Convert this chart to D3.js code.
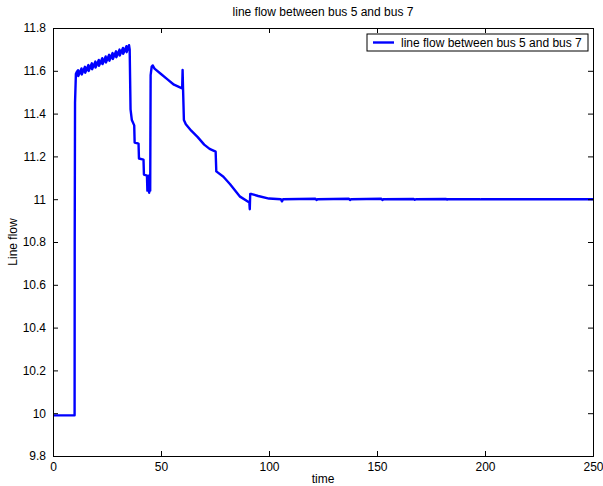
<!DOCTYPE html>
<meta charset="utf-8">
<style>
body { margin: 0; background: #fff; }
text { font-family: "Liberation Sans", Arial, Helvetica, sans-serif; fill: #000; }
</style>
<svg id="chart" width="603" height="486"></svg>
<script src="https://d3js.org/d3.v7.min.js"></script>
<script>
// values
var time = [0, 10, 10.05, 10.2, 10.6, 11.0,
    11.6, 11.7, 13.2, 13.3, 14.8, 14.9, 16.4, 16.5, 18.0, 18.1, 19.6, 19.7,
    21.2, 21.3, 22.8, 22.9, 24.4, 24.5, 26.0, 26.1, 27.6, 27.7, 29.2, 29.3,
    30.8, 30.9, 32.4, 32.5, 34.0, 34.1, 35.2,
    35.5, 35.9, 36.5, 37.6, 37.8, 39.6, 39.8, 41.9, 42.1, 43.5, 43.7, 44.2, 44.5, 44.8, 45.0,
    45.2, 45.7, 46.2, 47, 50, 53, 56, 59.8, 60.0, 60.2, 60.6, 61.5, 64, 67, 70, 72.5, 75.3,
    75.6, 78.9, 82, 86.6, 90.9, 91.1, 91.3, 92, 95, 100, 105.5, 106, 106.5,
    121.5, 122, 122.5, 137, 137.5, 138, 152, 152.5, 153, 167, 167.5, 168,
    182, 182.5, 183, 197.5, 198, 198.5, 250];
var flow = [9.99, 9.99, 10.8, 11.45, 11.585, 11.595,
    11.603, 11.575, 11.611, 11.583, 11.619, 11.591, 11.627, 11.599, 11.635, 11.607, 11.643, 11.615,
    11.651, 11.623, 11.659, 11.631, 11.667, 11.639, 11.675, 11.647, 11.683, 11.655, 11.691, 11.663,
    11.699, 11.671, 11.707, 11.679, 11.715, 11.687, 11.72,
    11.70, 11.42, 11.37, 11.345, 11.265, 11.26, 11.19, 11.185, 11.115, 11.11, 11.04, 11.11, 11.03, 11.06, 11.04,
    11.58, 11.62, 11.625, 11.61, 11.585, 11.56, 11.535, 11.518, 11.604, 11.52, 11.37, 11.35, 11.32, 11.29, 11.255, 11.235, 11.222,
    11.13, 11.105, 11.07, 11.012, 10.985, 10.953, 11.024, 11.024, 11.015, 11.003, 11.0, 10.99, 11.0,
    11.002, 10.996, 11.0, 11.002, 10.996, 11.0, 11.002, 10.996, 11.0, 11.001, 10.997, 11.0,
    11.001, 10.998, 11.0, 11.0, 10.999, 11.0, 11.0];

var xTicks = [0, 50, 100, 150, 200, 250];
var yTicks = [9.8, 10, 10.2, 10.4, 10.6, 10.8, 11, 11.2, 11.4, 11.6, 11.8];
var seriesName = "line flow between bus 5 and bus 7";

var svg = d3.select("#chart");
var plotL = 53, plotR = 593, plotT = 28, plotB = 456;

var x = d3.scaleLinear().domain([0, 250]).range([plotL, plotR]);
var y = d3.scaleLinear().domain([9.8, 11.8]).range([plotB, plotT]);

// data line (clipped to plot box)
svg.append("clipPath").attr("id", "clip")
    .append("rect").attr("x", plotL).attr("y", plotT)
    .attr("width", plotR - plotL).attr("height", plotB - plotT);

var pts = time.map(function(t, i) { return [t, flow[i]]; });
svg.append("path")
    .datum(pts)
    .attr("clip-path", "url(#clip)")
    .attr("fill", "none")
    .attr("stroke", "#0000ff")
    .attr("stroke-width", 2.4)
    .attr("stroke-linejoin", "round")
    .attr("d", d3.line().x(function(d) { return x(d[0]); }).y(function(d) { return y(d[1]); }));

// axes, ticks drawn inward like matlab
var fmt = function(v) { return String(+v.toFixed(1)); };
svg.append("g").attr("transform", "translate(0," + plotB + ")")
    .call(d3.axisBottom(x).tickValues(xTicks).tickSize(-5).tickPadding(6).tickFormat(fmt));
svg.append("g").attr("transform", "translate(0," + plotT + ")")
    .call(d3.axisTop(x).tickValues(xTicks).tickSize(-5).tickFormat(""));
svg.append("g").attr("transform", "translate(" + plotL + ",0)")
    .call(d3.axisLeft(y).tickValues(yTicks).tickSize(-5).tickPadding(7).tickFormat(fmt));
svg.append("g").attr("transform", "translate(" + plotR + ",0)")
    .call(d3.axisRight(y).tickValues(yTicks).tickSize(-5).tickFormat(""));

svg.selectAll(".domain").attr("stroke", "#000");
svg.selectAll(".tick line").attr("stroke", "#000");
svg.selectAll(".tick text").attr("font-size", 12).attr("font-family", "Liberation Sans, Arial, sans-serif");

// title and axis labels
svg.append("text").attr("x", (plotL + plotR) / 2).attr("y", 16)
    .attr("text-anchor", "middle").attr("font-size", 12).text(seriesName);
svg.append("text").attr("x", (plotL + plotR) / 2).attr("y", 483)
    .attr("text-anchor", "middle").attr("font-size", 12).text("time");
svg.append("text").attr("transform", "translate(17," + (plotT + plotB) / 2 + ") rotate(-90)")
    .attr("text-anchor", "middle").attr("font-size", 12).text("Line flow");

// legend
var lg = svg.append("g").attr("transform", "translate(367,34)");
lg.append("rect").attr("width", 221).attr("height", 17)
    .attr("fill", "#fff").attr("stroke", "#000");
lg.append("line").attr("x1", 6).attr("x2", 27).attr("y1", 8.5).attr("y2", 8.5)
    .attr("stroke", "#0000ff").attr("stroke-width", 2.4);
lg.append("text").attr("x", 34).attr("y", 13).attr("font-size", 12).text(seriesName);
</script>
